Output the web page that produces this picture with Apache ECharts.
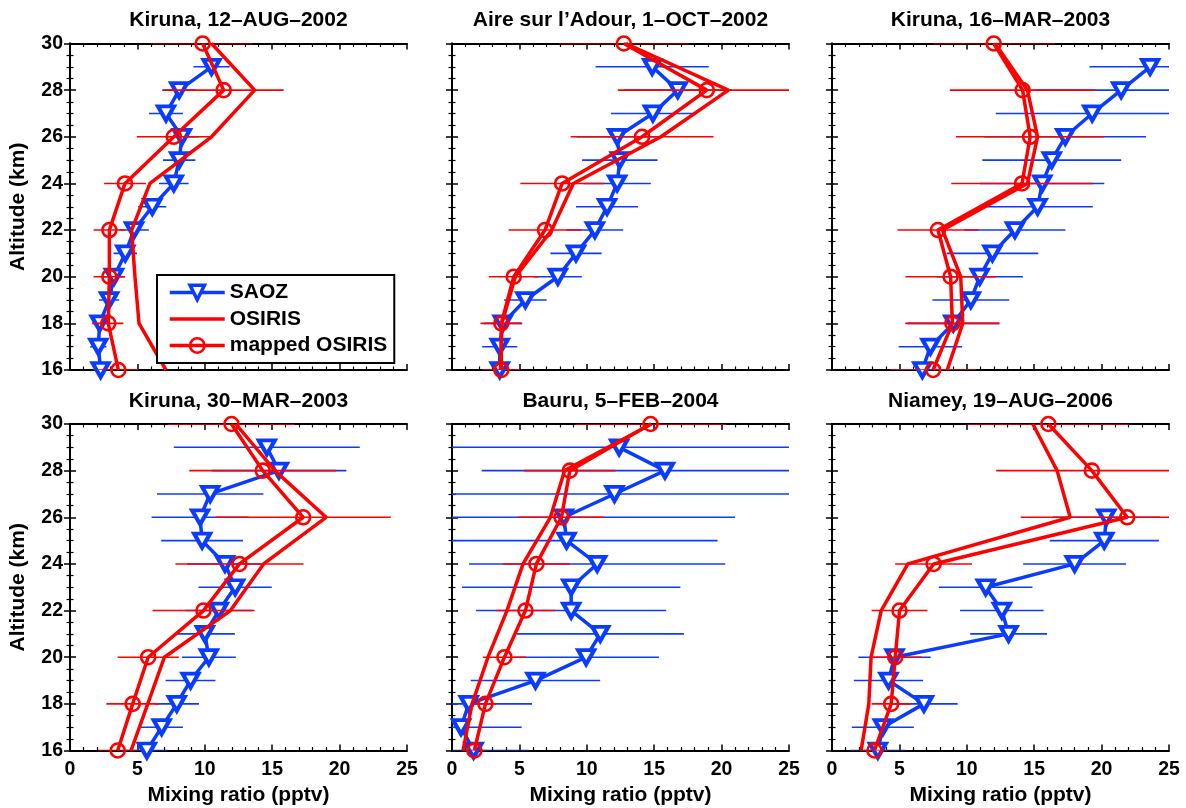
<!DOCTYPE html>
<html><head><meta charset="utf-8">
<script src="https://cdn.jsdelivr.net/npm/echarts@6/dist/echarts.min.js"></script>
<style>html,body{margin:0;padding:0;background:#fff}#c{width:1186px;height:808px}</style>
</head><body><div id="c"></div>
<script>
// ---------- data ----------
const altSAOZ = [16,17,18,19,20,21,22,23,24,25,26,27,28,29];
const altOSIRIS = [16,18,20,22,24,26,28,30];
const titles = ['Kiruna, 12–AUG–2002','Aire sur l’Adour, 1–OCT–2002','Kiruna, 16–MAR–2003',
                'Kiruna, 30–MAR–2003','Bauru, 5–FEB–2004','Niamey, 19–AUG–2006'];
const seriesNames = ['SAOZ','OSIRIS','mapped OSIRIS'];

const saoz1 = [2.27,2.1,2.2,2.9,3.26,4.1,4.75,6.1,7.7,8.1,8.3,7.12,8.1,10.5];
const saozErr1 = [0.55,0.6,0.56,0.75,0.8,0.87,1.1,1.05,1.1,1.2,1.25,1.26,1.26,1.35];
const osiris1 = [7.12,5.12,4.82,4.57,5.93,10.5,13.7,10.5];
const mapped1 = [3.59,2.84,2.92,2.92,4.08,7.7,11.4,9.84];
const mappedErr1 = [1.48,1.12,1.17,1.17,1.55,2.75,4.45,3.7];

const saoz2 = [3.54,3.54,3.76,5.44,7.85,9.2,10.6,11.5,12.25,12.45,12.25,14.9,16.75,14.85];
const saozErr2 = [0.7,1.3,1.4,1.58,1.78,1.9,2.1,2.3,2.5,2.8,3.0,3.1,4.0,4.2];
const osiris2 = [3.6,3.7,4.7,7.4,9.0,15.5,20.5,12.9];
const mapped2 = [3.66,3.66,4.58,6.9,8.17,14.1,18.9,12.75];
const mappedErr2 = [1.4,1.55,1.85,2.7,3.1,5.3,6.6,4.8];

const saoz3 = [6.7,7.3,9.0,10.3,10.96,11.9,13.57,15.25,15.6,16.3,17.3,19.3,21.45,23.6];
const saozErr3 = [2.0,2.35,3.4,2.85,3.2,3.4,3.75,4.1,4.6,5.15,6.0,7.15,6.5,4.5];
const osiris3 = [8.55,9.7,9.55,8.2,14.5,15.25,14.5,12.1];
const mapped3 = [7.5,8.93,8.8,7.86,14.1,14.7,14.14,12.0];
const mappedErr3 = [3.2,3.5,3.35,3.0,5.25,5.5,5.4,4.5];

const saoz4 = [5.7,6.8,7.92,8.94,10.3,10.0,11.04,12.25,11.5,9.8,9.65,10.4,15.5,14.6];
const saozErr4 = [1.55,1.58,1.65,1.85,2.0,2.23,2.5,2.72,2.8,3.03,3.6,3.95,5.0,6.9];
const osiris4 = [4.53,5.77,7.0,11.9,14.36,19.0,15.2,12.3];
const mapped4 = [3.54,4.65,5.8,9.9,12.57,17.3,14.3,11.98];
const mappedErr4 = [1.5,1.95,2.27,3.78,4.75,6.5,5.45,4.7];

const saoz5 = [1.6,0.67,1.24,6.19,9.95,11.0,8.84,8.84,10.77,8.5,8.3,12.05,15.8,12.4];
const saozErr5 = [4.1,4.5,4.7,4.8,5.4,6.2,7.05,8.1,9.5,11.2,12.7,13.5,13.6,13.0];
const osiris5 = [0.82,1.49,2.67,4.08,5.27,7.3,8.35,14.8];
const mapped5 = [1.66,2.48,3.89,5.45,6.26,8.12,8.74,14.73];
const mappedErr5 = [0.9,0.8,1.6,2.2,2.5,3.2,3.4,5.6];

const saoz6 = [3.4,3.77,6.82,4.19,4.64,13.1,12.6,11.4,18.0,20.2,20.35,null,null,null];
const saozErr6 = [2.05,2.3,2.5,2.57,2.68,2.85,3.1,3.47,3.82,4.05,4.0,null,null,null];
const osiris6 = [2.16,2.73,2.9,3.65,5.63,17.67,16.7,14.9];
const mapped6 = [3.15,4.39,4.69,5.01,7.54,21.9,19.28,16.05];
const mappedErr6 = [1.0,1.45,1.95,2.07,2.85,7.9,7.1,6.0];

const panels = [
  [saoz1,saozErr1,osiris1,mapped1,mappedErr1],
  [saoz2,saozErr2,osiris2,mapped2,mappedErr2],
  [saoz3,saozErr3,osiris3,mapped3,mappedErr3],
  [saoz4,saozErr4,osiris4,mapped4,mappedErr4],
  [saoz5,saozErr5,osiris5,mapped5,mappedErr5],
  [saoz6,saozErr6,osiris6,mapped6,mappedErr6]
];

// ---------- style ----------
const BLUE = '#0a3cff', RED = '#ff0000';
const FONT = '"Liberation Sans", Arial, Helvetica, sans-serif';
const gridLefts = [70, 452, 832], gridTops = [43.5, 424];
const GW = 337, GH = 326.5;
const XMIN = 0, XMAX = 25;

const chart = echarts.init(document.getElementById('c'), null, {renderer:'canvas', width:1186, height:808});

const grids = [], xAxes = [], yAxes = [], series = [], titleArr = [];
const lineAx = {show:true, lineStyle:{color:'#000', width:2}};
const labelSt = {color:'#000', fontSize:19.5, fontWeight:'bold', fontFamily:FONT};

function pairs(vals, alts){ const d=[]; vals.forEach((v,k)=>{ if(v!=null) d.push([v, alts[k]]); }); return d; }
function errSeries(i, vals, errs, alts, color, z){
  const data=[];
  vals.forEach((v,k)=>{ if(v!=null) data.push([v-errs[k], v+errs[k], alts[k]]); });
  return {type:'custom', xAxisIndex:2*i, yAxisIndex:2*i, z, silent:true, clip:true,
    encode:{x:[0,1], y:2}, data,
    renderItem(params, api){
      const lo=Math.max(XMIN, api.value(0)), hi=Math.min(XMAX, api.value(1));
      const a=api.coord([lo, api.value(2)]), b=api.coord([hi, api.value(2)]);
      return {type:'line', shape:{x1:a[0],y1:a[1],x2:b[0],y2:b[1]}, style:{stroke:color, lineWidth:1.6}};
    }};
}

for (let i=0;i<6;i++){
  const col=i%3, row=Math.floor(i/3);
  grids.push({left:gridLefts[col], top:gridTops[row], width:GW, height:GH, containLabel:false});
  const xBase = {gridIndex:i, type:'value', min:XMIN, max:XMAX, interval:5,
    axisLine:lineAx, splitLine:{show:false},
    axisTick:{show:true, inside:true, length:6, lineStyle:{color:'#000', width:1.5}},
    minorTick:{show:true, splitNumber:5, length:3.5, lineStyle:{color:'#000', width:1.2}}};
  xAxes.push(Object.assign({}, xBase, {position:'bottom',
    axisLabel:{show:row===1, margin:9, ...labelSt},
    name: row===1 ? 'Mixing ratio (pptv)' : '', nameLocation:'middle', nameGap:34,
    nameTextStyle:{color:'#000', fontSize:21, fontWeight:'bold', fontFamily:FONT}}));
  xAxes.push(Object.assign({}, xBase, {position:'top', axisLabel:{show:false}}));
  const yBase = {gridIndex:i, type:'value', min:16, max:30, interval:2,
    axisLine:lineAx, splitLine:{show:false},
    axisTick:{show:true, inside:true, length:6, lineStyle:{color:'#000', width:1.5}},
    minorTick:{show:true, splitNumber:4, length:3.5, lineStyle:{color:'#000', width:1.2}}};
  yAxes.push(Object.assign({}, yBase, {position:'left',
    axisLabel:{show:col===0, margin:7, ...labelSt},
    name: col===0 ? 'Altitude (km)' : '', nameLocation:'middle', nameGap:41, nameRotate:90,
    nameTextStyle:{color:'#000', fontSize:21, fontWeight:'bold', fontFamily:FONT}}));
  yAxes.push(Object.assign({}, yBase, {position:'right', axisLabel:{show:false}}));

  titleArr.push({text:titles[i], left:gridLefts[col]+GW/2, top:row===0?10:391, textAlign:'center', padding:0,
    textStyle:{color:'#000', fontSize:21, fontWeight:'bold', fontFamily:FONT}});

  const [sz, szE, os, mp, mpE] = panels[i];
  series.push(errSeries(i, sz, szE, altSAOZ, BLUE, 2));
  series.push({type:'line', name:seriesNames[0], xAxisIndex:2*i, yAxisIndex:2*i, z:3,
    data:pairs(sz, altSAOZ), symbol:'triangle', symbolRotate:180, symbolSize:[16,14],
    lineStyle:{color:BLUE, width:3.5}, itemStyle:{color:'#fff', borderColor:BLUE, borderWidth:4},
    emphasis:{disabled:true}, animation:false});
  series.push({type:'line', name:seriesNames[1], xAxisIndex:2*i, yAxisIndex:2*i, z:4,
    data:pairs(os, altOSIRIS), symbol:'none', showSymbol:false,
    lineStyle:{color:RED, width:3.5}, itemStyle:{color:RED},
    emphasis:{disabled:true}, animation:false});
  series.push(errSeries(i, mp, mpE, altOSIRIS, RED, 5));
  series.push({type:'line', name:seriesNames[2], xAxisIndex:2*i, yAxisIndex:2*i, z:6,
    data:pairs(mp, altOSIRIS), symbol:'circle', symbolSize:14,
    lineStyle:{color:RED, width:3.5}, itemStyle:{color:'rgba(255,255,255,0)', borderColor:RED, borderWidth:2.6},
    emphasis:{disabled:true}, animation:false});
}

chart.setOption({
  backgroundColor:'#fff',
  animation:false,
  title:titleArr,
  grid:grids, xAxis:xAxes, yAxis:yAxes, series,
  legend:{
    data:[
      {name:seriesNames[0], lineStyle:{color:BLUE, width:3.5}, itemStyle:{color:'#fff', borderColor:BLUE, borderWidth:3.5}},
      {name:seriesNames[1], lineStyle:{color:RED, width:3.5}, itemStyle:{color:'rgba(0,0,0,0)', borderColor:'rgba(0,0,0,0)', borderWidth:0}},
      {name:seriesNames[2], lineStyle:{color:RED, width:3.5}, itemStyle:{color:'rgba(255,255,255,0)', borderColor:RED, borderWidth:2.6}}
    ],
    orient:'vertical', left:157, top:275, itemWidth:55, itemHeight:18, itemGap:5.5,
    padding:[7,7,7,11], borderColor:'#000', borderWidth:2, backgroundColor:'#fff', selectedMode:false,
    textStyle:{color:'#000', fontSize:21, fontWeight:'bold', fontFamily:FONT}, z:10}
});
</script></body></html>
